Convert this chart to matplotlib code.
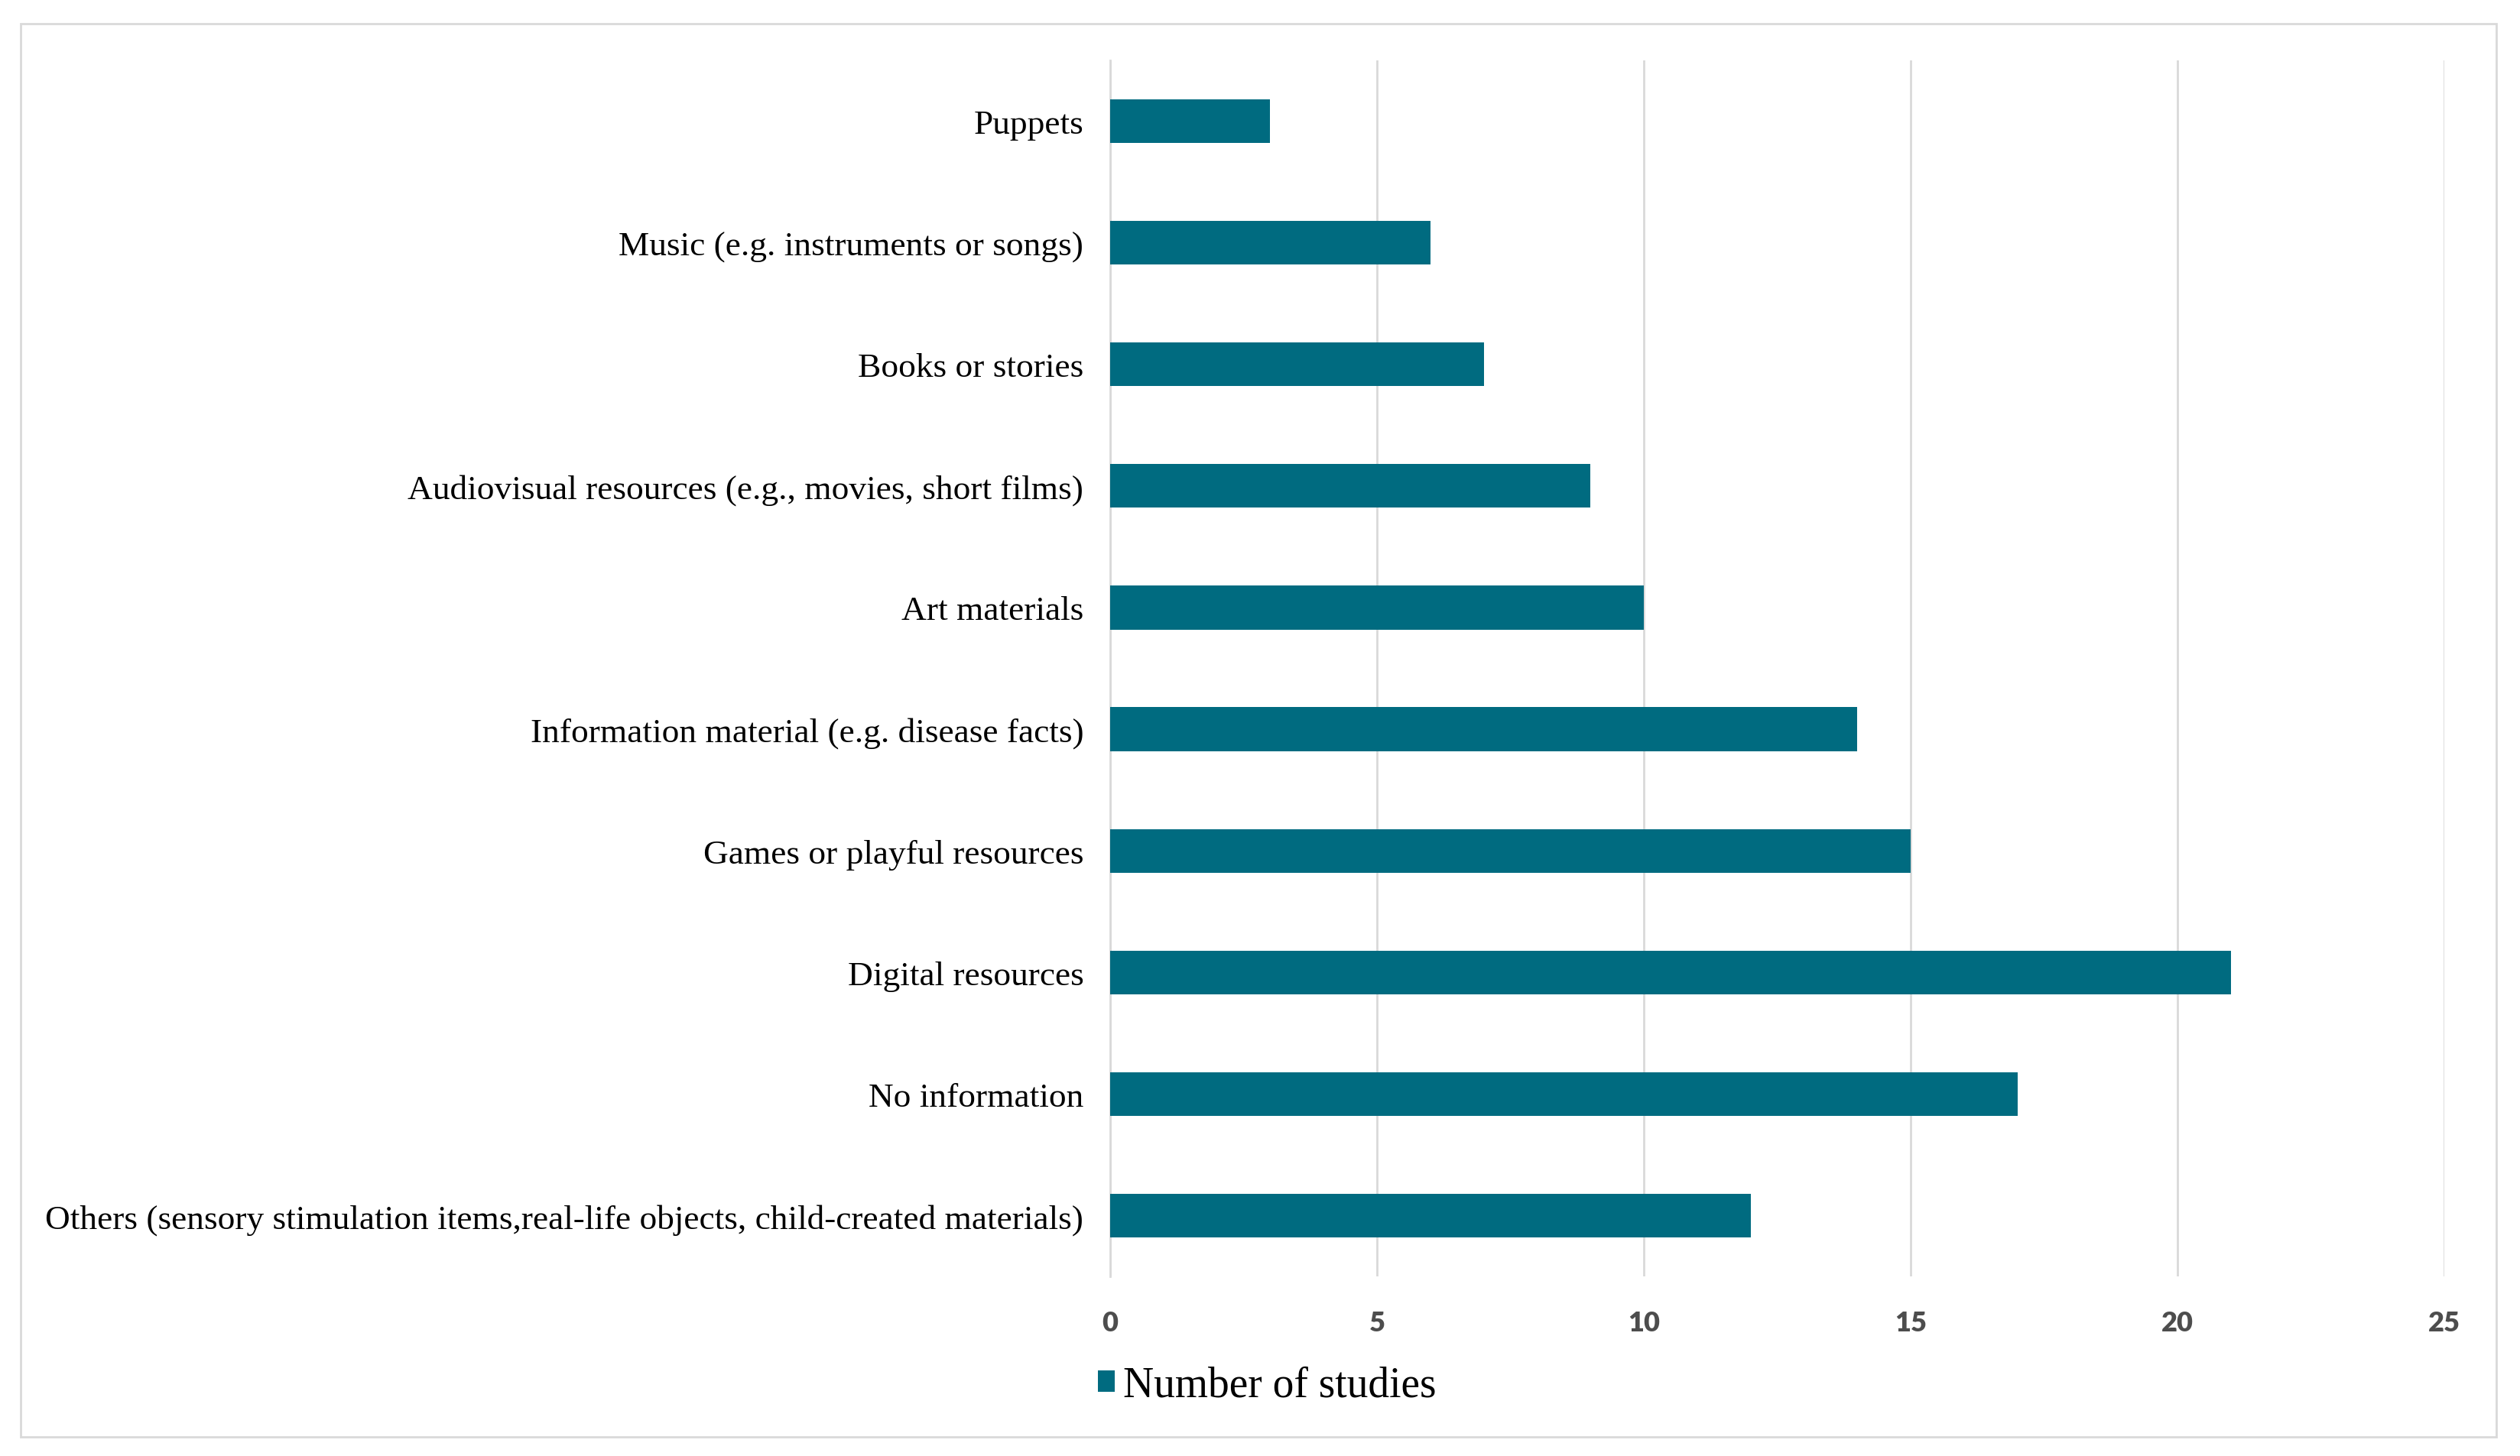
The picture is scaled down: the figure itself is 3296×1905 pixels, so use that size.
import matplotlib
matplotlib.use("Agg")
import matplotlib.pyplot as plt
from matplotlib.patches import Rectangle

# categories from bottom to top, as drawn
categories = [
    "Others (sensory stimulation items,real-life objects, child-created materials)",
    "No information",
    "Digital resources",
    "Games or playful resources",
    "Information material (e.g. disease facts)",
    "Art materials",
    "Audiovisual resources (e.g., movies, short films)",
    "Books or stories",
    "Music (e.g. instruments or songs)",
    "Puppets",
]
number_of_studies = [12, 17, 21, 15, 14, 10, 9, 7, 6, 3]
x_ticks = [0, 5, 10, 15, 20, 25]

bar_color = "#006B80"
grid_color = "#D9D9D9"

fig = plt.figure(figsize=(32.96, 19.06), dpi=100)
fig.patch.set_facecolor("white")

# light frame around the whole chart
fig.patches.append(Rectangle((27 / 3296, 1 - 1881 / 1906), (3265 - 27) / 3296,
                             (1881 - 32) / 1906, transform=fig.transFigure,
                             fill=False, edgecolor="#D9D9D9", linewidth=2))

ax = fig.add_axes([1452 / 3296, 1 - 1671 / 1906, (3197 - 1452) / 3296,
                   (1671 - 80) / 1906])
ypos = list(range(len(categories)))
bars = ax.barh(ypos, number_of_studies, height=0.36, color=bar_color,
               label="Number of studies", zorder=3)

ax.set_xlim(0, 25)
ax.set_ylim(-0.5, len(categories) - 0.5)
ax.set_xticks(x_ticks)
ax.set_xticklabels([str(t) for t in x_ticks], fontfamily="Lato",
                   fontweight="heavy", fontsize=26, color="#4D4D4D")
ax.set_yticks(ypos)
ax.set_yticklabels(categories, fontfamily="Liberation Serif", fontsize=32.7,
                   color="black", va="center_baseline")
ax.tick_params(axis="both", length=0)
ax.tick_params(axis="x", pad=32)
ax.tick_params(axis="y", pad=25)

ax.grid(axis="x", color=grid_color, linewidth=2, zorder=0)
for side in ["top", "right", "bottom"]:
    ax.spines[side].set_visible(False)
ax.spines["left"].set_color(grid_color)
ax.spines["left"].set_linewidth(2)

leg = fig.legend(handles=[bars], labels=["Number of studies"],
                 loc="center left", bbox_to_anchor=(1386 / 3296, 1 - 1814 / 1906),
                 frameon=False, handlelength=0.4, handleheight=0.4,
                 handletextpad=0.2,
                 prop={"family": "Liberation Serif", "size": 40})

fig.savefig("out.png", dpi=100, facecolor="white")
